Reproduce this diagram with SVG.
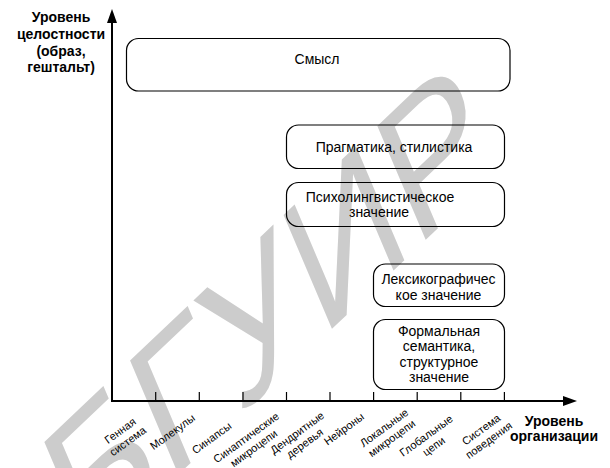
<svg xmlns="http://www.w3.org/2000/svg" width="610" height="468" viewBox="0 0 610 468">
<style>
.wm{font-family:"Liberation Sans",Arial,sans-serif;font-size:180px;fill:#cccccc}
.box{fill:none;stroke:#000;stroke-width:1.2}
.t{font-family:"Liberation Sans",Arial,sans-serif;font-size:14px;fill:#000;text-anchor:middle}
.b{font-family:"Liberation Sans",Arial,sans-serif;font-size:14px;font-weight:bold;fill:#000;text-anchor:middle}
.tk{font-family:"Liberation Sans",Arial,sans-serif;font-size:11px;fill:#000;text-anchor:middle}
.ax{stroke:#000;stroke-width:2;fill:none}
.tick{stroke:#000;stroke-width:1.2}
</style>
<rect width="610" height="468" fill="#fff"/>
<text class="wm" transform="matrix(0.725,-0.688,0.39,0.92,82,566)">БГУИР</text>

<g id="axes">
<line class="ax" x1="112" y1="401" x2="112" y2="22"/>
<polygon points="112,9 107,23 117,23" fill="#000"/>
<line class="ax" x1="111" y1="401" x2="564" y2="401"/>
<polygon points="577,401 563,396 563,406" fill="#000"/>
<g class="tick">
<line x1="155.7" y1="392" x2="155.7" y2="401"/>
<line x1="199.3" y1="392" x2="199.3" y2="401"/>
<line x1="243" y1="392" x2="243" y2="401"/>
<line x1="286.5" y1="392" x2="286.5" y2="401"/>
<line x1="330" y1="392" x2="330" y2="401"/>
<line x1="373.6" y1="392" x2="373.6" y2="401"/>
<line x1="417.2" y1="392" x2="417.2" y2="401"/>
<line x1="460.8" y1="392" x2="460.8" y2="401"/>
<line x1="504.4" y1="392" x2="504.4" y2="401"/>
</g>
</g>

<g id="ylabel">
<text class="b" x="61" y="22">Уровень</text>
<text class="b" x="61" y="38.5">целостности</text>
<text class="b" x="61" y="55.5">(образ,</text>
<text class="b" x="61" y="72">гештальт)</text>
</g>
<g id="xlabel">
<text class="b" x="554" y="426">Уровень</text>
<text class="b" x="554" y="440.5">организации</text>
</g>

<g id="ticklabels">
<text class="tk" transform="translate(124,436) rotate(-36)"><tspan x="0" y="-2.8">Генная</tspan><tspan x="0" y="10.2">система</tspan></text>
<text class="tk" transform="translate(172.5,432) rotate(-36)"><tspan x="0" y="3.7">Молекулы</tspan></text>
<text class="tk" transform="translate(211.7,438) rotate(-36)"><tspan x="0" y="3.7">Синапсы</tspan></text>
<text class="tk" transform="translate(250,443) rotate(-36)"><tspan x="0" y="-2.8">Синаптические</tspan><tspan x="0" y="10.2">микроцепи</tspan></text>
<text class="tk" transform="translate(301,438) rotate(-36)"><tspan x="0" y="-2.8">Дендритные</tspan><tspan x="0" y="10.2">деревья</tspan></text>
<text class="tk" transform="translate(344,429) rotate(-36)"><tspan x="0" y="3.7">Нейроны</tspan></text>
<text class="tk" transform="translate(388,433) rotate(-36)"><tspan x="0" y="-2.8">Локальные</tspan><tspan x="0" y="10.2">микроцепи</tspan></text>
<text class="tk" transform="translate(430,441) rotate(-36)"><tspan x="0" y="-2.8">Глобальные</tspan><tspan x="0" y="10.2">цепи</tspan></text>
<text class="tk" transform="translate(485,435) rotate(-36)"><tspan x="0" y="-2.8">Система</tspan><tspan x="0" y="10.2">поведения</tspan></text>
</g>

<g id="smysl">
<rect class="box" x="126.5" y="38.5" width="383.5" height="52.5" rx="12"/>
<text class="t" x="317" y="63.5">Смысл</text>
</g>
<g id="pragmatika">
<rect class="box" x="286.5" y="125" width="218" height="43.5" rx="12"/>
<text class="t" x="394" y="152">Прагматика, стилистика</text>
</g>
<g id="psiholing">
<rect class="box" x="286.5" y="182.5" width="218" height="44" rx="12"/>
<text class="t" x="380" y="201.5">Психолингвистическое</text>
<text class="t" x="379" y="217">значение</text>
</g>
<g id="leksiko">
<rect class="box" x="373.5" y="264" width="131" height="42.5" rx="12"/>
<text class="t" x="438.5" y="284">Лексикографичес</text>
<text class="t" x="438.5" y="300">кое значение</text>
</g>
<g id="formal">
<rect class="box" x="373.5" y="319.5" width="131" height="70" rx="12"/>
<text class="t" x="439" y="335.5">Формальная</text>
<text class="t" x="439" y="351">семантика,</text>
<text class="t" x="439" y="366.5">структурное</text>
<text class="t" x="439" y="382">значение</text>
</g>
</svg>
